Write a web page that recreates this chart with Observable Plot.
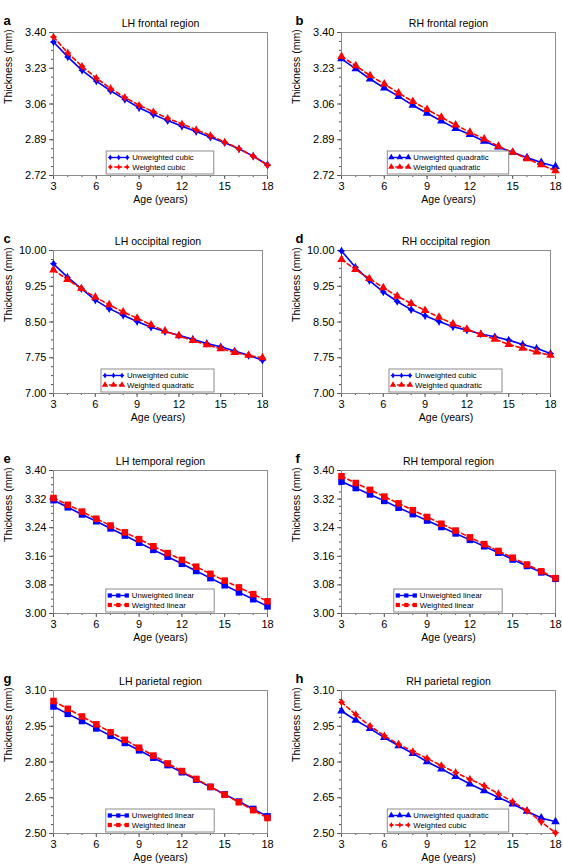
<!DOCTYPE html>
<html>
<head>
<meta charset="utf-8">
<script src="https://cdn.jsdelivr.net/npm/d3@7"></script>
<script src="https://cdn.jsdelivr.net/npm/@observablehq/plot@0.6"></script>
<style>
  html, body { margin: 0; padding: 0; background: #fff; }
  body { width: 563px; height: 864px; overflow: hidden; font-family: "Liberation Sans", Arial, Helvetica, sans-serif; }
  #fig { position: relative; width: 563px; height: 864px; }
  .panel { position: absolute; }
  .panel svg { overflow: visible; }
</style>
</head>
<body>
<div id="fig"></div>
<script>
// Age grid (years) and x tick labels
const ages = [3, 4, 5, 6, 7, 8, 9, 10, 11, 12, 13, 14, 15, 16, 17, 18];
const xTicks = [3, 6, 9, 12, 15, 18];

// y tick labels per region
const frontalTicks = [2.72, 2.89, 3.06, 3.23, 3.40];
const occipitalTicks = [7.00, 7.75, 8.50, 9.25, 10.00];
const temporalTicks = [3.00, 3.08, 3.16, 3.24, 3.32, 3.40];
const parietalTicks = [2.50, 2.65, 2.80, 2.95, 3.10];

// Cortical thickness (mm) by age, unweighted vs weighted fits
const lhFrontalUnweighted = [3.355, 3.284, 3.220, 3.169, 3.123, 3.082, 3.042, 3.010, 2.981, 2.954, 2.929, 2.902, 2.876, 2.847, 2.812, 2.771];
const lhFrontalWeighted   = [3.379, 3.303, 3.239, 3.183, 3.134, 3.091, 3.054, 3.023, 2.992, 2.965, 2.938, 2.910, 2.879, 2.847, 2.812, 2.769];

const rhFrontalUnweighted = [3.275, 3.227, 3.179, 3.136, 3.096, 3.054, 3.016, 2.979, 2.944, 2.915, 2.883, 2.856, 2.830, 2.805, 2.782, 2.763];
const rhFrontalWeighted   = [3.286, 3.242, 3.195, 3.155, 3.112, 3.072, 3.034, 2.997, 2.960, 2.926, 2.894, 2.859, 2.830, 2.800, 2.771, 2.742];

const lhOccipitalUnweighted = [9.72, 9.44, 9.20, 8.96, 8.78, 8.64, 8.51, 8.39, 8.30, 8.22, 8.14, 8.05, 7.98, 7.89, 7.80, 7.70];
const lhOccipitalWeighted   = [9.59, 9.39, 9.20, 9.02, 8.86, 8.71, 8.58, 8.44, 8.31, 8.21, 8.11, 8.02, 7.94, 7.86, 7.80, 7.75];

const rhOccipitalUnweighted = [9.99, 9.65, 9.37, 9.13, 8.93, 8.76, 8.63, 8.51, 8.40, 8.33, 8.25, 8.19, 8.12, 8.03, 7.95, 7.84];
const rhOccipitalWeighted   = [9.81, 9.60, 9.41, 9.22, 9.04, 8.89, 8.74, 8.60, 8.46, 8.35, 8.24, 8.14, 8.03, 7.95, 7.87, 7.80];

const lhTemporalUnweighted = [3.317, 3.297, 3.277, 3.258, 3.238, 3.218, 3.198, 3.178, 3.159, 3.139, 3.119, 3.099, 3.079, 3.059, 3.040, 3.020];
const lhTemporalWeighted   = [3.323, 3.304, 3.285, 3.265, 3.246, 3.227, 3.208, 3.188, 3.169, 3.150, 3.131, 3.111, 3.092, 3.073, 3.054, 3.034];

const rhTemporalUnweighted = [3.369, 3.351, 3.333, 3.315, 3.296, 3.278, 3.260, 3.242, 3.224, 3.206, 3.188, 3.170, 3.151, 3.133, 3.115, 3.097];
const rhTemporalWeighted   = [3.384, 3.365, 3.346, 3.327, 3.308, 3.289, 3.270, 3.251, 3.232, 3.213, 3.194, 3.175, 3.156, 3.137, 3.118, 3.099];

const lhParietalUnweighted = [3.033, 3.002, 2.972, 2.941, 2.910, 2.880, 2.849, 2.818, 2.787, 2.757, 2.726, 2.695, 2.664, 2.634, 2.603, 2.572];
const lhParietalWeighted   = [3.056, 3.023, 2.991, 2.958, 2.925, 2.893, 2.860, 2.827, 2.794, 2.762, 2.729, 2.696, 2.663, 2.631, 2.598, 2.565];

const rhParietalUnweighted = [3.014, 2.975, 2.940, 2.903, 2.868, 2.836, 2.801, 2.771, 2.739, 2.708, 2.679, 2.651, 2.624, 2.593, 2.565, 2.549];
const rhParietalWeighted   = [3.051, 2.999, 2.951, 2.910, 2.875, 2.844, 2.815, 2.785, 2.756, 2.728, 2.700, 2.667, 2.633, 2.596, 2.549, 2.503];

// Marker shapes: four-pointed star for cubic fits, triangle for quadratic, square for linear
const cubicSymbol = {
  draw(ctx, size) {
    const r = Math.sqrt(size / Math.PI);
    const a = r * 1.15, b = r * 0.95, c = r * 0.4;
    ctx.moveTo(0, -a);
    ctx.lineTo(c, -c);
    ctx.lineTo(b, 0);
    ctx.lineTo(c, c);
    ctx.lineTo(0, a);
    ctx.lineTo(-c, c);
    ctx.lineTo(-b, 0);
    ctx.lineTo(-c, -c);
    ctx.closePath();
  }
};
const shapes = {
  cubic: {plot: cubicSymbol, d3: cubicSymbol, r: 3.8, legendSize: 22},
  quadratic: {plot: "triangle", d3: d3.symbolTriangle, r: 3.2, legendSize: 18},
  linear: {plot: "square", d3: d3.symbolSquare, r: 3.7, legendSize: 18}
};

const blue = "#0000ff";
const red = "#ff0000";

const panels = [
  {letter: "a", title: "LH frontal region", ticks: frontalTicks, unweighted: lhFrontalUnweighted, weighted: lhFrontalWeighted,
   unweightedFit: "cubic", weightedFit: "cubic", marginRight: 15},
  {letter: "b", title: "RH frontal region", ticks: frontalTicks, unweighted: rhFrontalUnweighted, weighted: rhFrontalWeighted,
   unweightedFit: "quadratic", weightedFit: "quadratic", marginRight: 8},
  {letter: "c", title: "LH occipital region", ticks: occipitalTicks, unweighted: lhOccipitalUnweighted, weighted: lhOccipitalWeighted,
   unweightedFit: "cubic", weightedFit: "quadratic", marginRight: 20},
  {letter: "d", title: "RH occipital region", ticks: occipitalTicks, unweighted: rhOccipitalUnweighted, weighted: rhOccipitalWeighted,
   unweightedFit: "cubic", weightedFit: "quadratic", marginRight: 13},
  {letter: "e", title: "LH temporal region", ticks: temporalTicks, unweighted: lhTemporalUnweighted, weighted: lhTemporalWeighted,
   unweightedFit: "linear", weightedFit: "linear", marginRight: 15},
  {letter: "f", title: "RH temporal region", ticks: temporalTicks, unweighted: rhTemporalUnweighted, weighted: rhTemporalWeighted,
   unweightedFit: "linear", weightedFit: "linear", marginRight: 8},
  {letter: "g", title: "LH parietal region", ticks: parietalTicks, unweighted: lhParietalUnweighted, weighted: lhParietalWeighted,
   unweightedFit: "linear", weightedFit: "linear", marginRight: 15},
  {letter: "h", title: "RH parietal region", ticks: parietalTicks, unweighted: rhParietalUnweighted, weighted: rhParietalWeighted,
   unweightedFit: "quadratic", weightedFit: "cubic", marginRight: 8}
];

// Grid layout
const colLeft = [0, 282];
const colWidth = [282, 281];
const colMarginLeft = [53, 59];
const rowPlotTop = [32, 250, 470, 690];
const plotHeight = 143;
const svgHeight = 216;
const marginTop = 32;
const fontFamily = "'Liberation Sans', Arial, Helvetica, sans-serif";

const fig = document.getElementById("fig");

panels.forEach((p, i) => {
  const col = i % 2, row = Math.floor(i / 2);
  const width = colWidth[col];
  const marginLeft = colMarginLeft[col];
  const marginRight = p.marginRight;
  const marginBottom = svgHeight - marginTop - plotHeight;
  const data = ages.map((age, k) => ({age, unweighted: p.unweighted[k], weighted: p.weighted[k]}));
  const yMin = p.ticks[0], yMax = p.ticks[p.ticks.length - 1];
  const step = p.ticks[1] - p.ticks[0];
  const nMinor = Math.round((yMax - yMin) / step) * 4;
  const yMinor = d3.range(nMinor + 1).map(j => yMin + j * step / 4);
  const su = shapes[p.unweightedFit], sw = shapes[p.weightedFit];
  const tickColor = "#555";

  const chart = Plot.plot({
    width,
    height: svgHeight,
    marginLeft, marginRight, marginTop, marginBottom,
    style: {fontFamily, fontSize: "11px", color: "#000", background: "transparent", overflow: "visible"},
    x: {domain: [3, 18]},
    y: {domain: [yMin, yMax]},
    marks: [
      Plot.axisX({ticks: ages, tickSize: 2, tickFormat: () => "", label: null, stroke: tickColor}),
      Plot.axisX({ticks: xTicks, tickSize: 4, tickPadding: 3, label: null, fontSize: 11, stroke: tickColor}),
      Plot.axisY({ticks: yMinor, tickSize: 2, tickFormat: () => "", label: null, stroke: tickColor}),
      Plot.axisY({ticks: p.ticks, tickSize: 4, tickPadding: 3, tickFormat: d => d.toFixed(2), label: null, fontSize: 11, stroke: tickColor}),
      Plot.frame({stroke: "#8c8c8c", strokeWidth: 1}),
      Plot.line(data, {x: "age", y: "unweighted", stroke: blue, strokeWidth: 1.6}),
      Plot.dot(data, {x: "age", y: "unweighted", symbol: su.plot, r: su.r, fill: blue, stroke: "none"}),
      Plot.line(data, {x: "age", y: "weighted", stroke: red, strokeWidth: 1.6, strokeDasharray: "4,3"}),
      Plot.dot(data, {x: "age", y: "weighted", symbol: sw.plot, r: sw.r, fill: red, stroke: "none"}),
      Plot.text([p.title], {text: d => d, frameAnchor: "top", dy: -13, fontSize: 10.5}),
      Plot.text([p.letter], {text: d => d, frameAnchor: "top-left", textAnchor: "start", dx: -marginLeft + 3 + col * 10, dy: -17, fontSize: 13, fontWeight: "bold"}),
      Plot.text(["Age (years)"], {text: d => d, frameAnchor: "bottom", dy: 27, fontSize: 10.5}),
      Plot.text(["Thickness (mm)"], {text: d => d, frameAnchor: "left", rotate: -90, dx: -45, fontSize: 10.5})
    ]
  });

  const holder = document.createElement("div");
  holder.className = "panel";
  holder.style.left = colLeft[col] + "px";
  holder.style.top = (rowPlotTop[row] - marginTop) + "px";
  holder.style.width = width + "px";
  holder.style.height = svgHeight + "px";
  holder.appendChild(chart);
  fig.appendChild(holder);

  // Legend box centred at the bottom of the frame
  const svg = d3.select(chart);
  const frameLeft = marginLeft, frameRight = width - marginRight;
  const frameBottom = marginTop + plotHeight;
  const g = svg.append("g")
    .attr("font-family", fontFamily)
    .attr("font-size", 7.8)
    .attr("text-anchor", "start");
  const box = g.append("rect").attr("fill", "#fff").attr("stroke", "#8c8c8c").attr("stroke-width", 1);
  const entries = [
    {label: "Unweighted " + p.unweightedFit, color: blue, dash: null, shape: su},
    {label: "Weighted " + p.weightedFit, color: red, dash: "3,2", shape: sw}
  ];
  const texts = entries.map(e => g.append("text")
    .attr("fill", "#000")
    .attr("text-anchor", "start")
    .attr("dy", "0.35em")
    .text(e.label));
  const textW = d3.max(texts, t => t.node().getComputedTextLength());
  const boxW = 26 + textW + 20, boxH = 23;
  const bx = (frameLeft + frameRight) / 2 - boxW / 2;
  const by = frameBottom - 1 - boxH;
  box.attr("x", bx).attr("y", by).attr("width", boxW).attr("height", boxH);
  entries.forEach((e, k) => {
    const cy = by + 6.5 + k * 9.5;
    g.append("line").attr("x1", bx + 3).attr("x2", bx + 22).attr("y1", cy).attr("y2", cy)
      .attr("stroke", e.color).attr("stroke-width", 1.4).attr("stroke-dasharray", e.dash);
    [bx + 4, bx + 12.5, bx + 21].forEach(mx => {
      g.append("path").attr("transform", `translate(${mx},${cy})`)
        .attr("d", d3.symbol().type(e.shape.d3).size(e.shape.legendSize)())
        .attr("fill", e.color);
    });
    texts[k].attr("x", bx + 26).attr("y", cy);
  });
});
</script>
</body>
</html>
